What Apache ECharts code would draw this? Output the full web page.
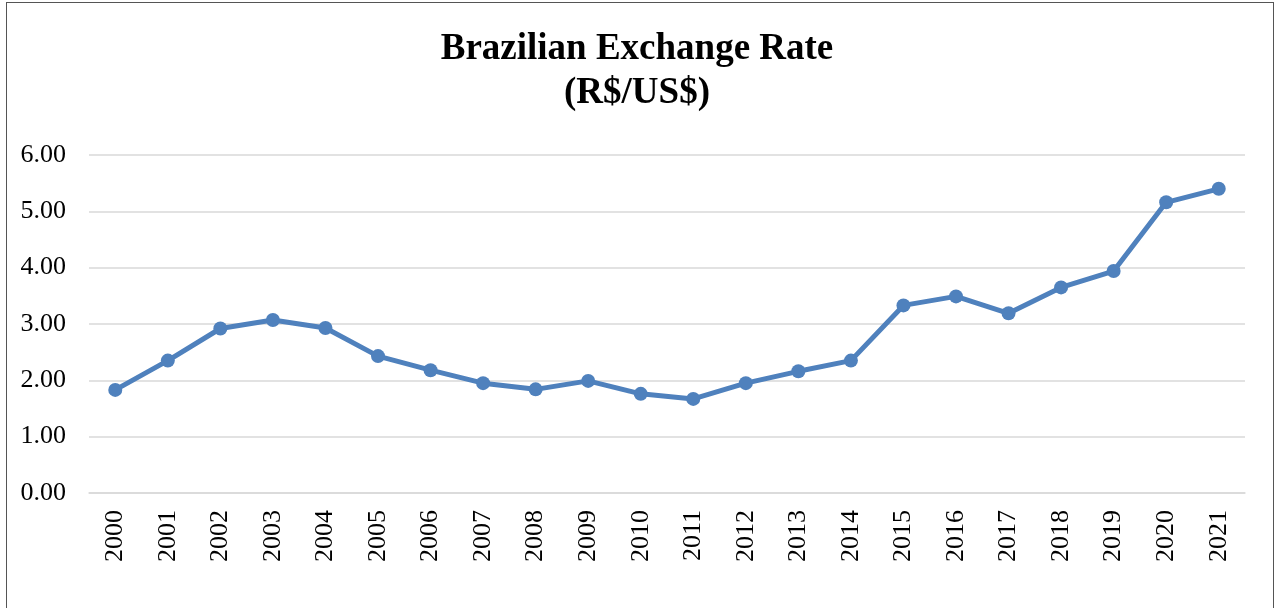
<!DOCTYPE html>
<html>
<head>
<meta charset="utf-8">
<script src="https://cdn.jsdelivr.net/npm/echarts@6/dist/echarts.min.js"></script>
<style>
  html, body { margin: 0; padding: 0; background: #fff; overflow: hidden; }
  .frame {
    position: absolute; left: 6px; top: 2px; width: 1268px; height: 620px;
    border: 1.5px solid #555; box-sizing: border-box;
  }
  #chart { position: absolute; left: 0; top: 0; width: 1274px; height: 608px; }
</style>
</head>
<body>
<div class="frame"></div>
<div id="chart"></div>
<script>
// 年份
var years = ['2000', '2001', '2002', '2003', '2004', '2005', '2006', '2007', '2008', '2009', '2010',
  '2011', '2012', '2013', '2014', '2015', '2016', '2017', '2018', '2019', '2020', '2021'];
// 汇率 R$/US$
var rates = [1.83, 2.35, 2.92, 3.07, 2.93, 2.43, 2.18, 1.95, 1.84, 1.99, 1.76,
  1.67, 1.95, 2.16, 2.35, 3.33, 3.49, 3.19, 3.65, 3.94, 5.16, 5.40];

var chart = echarts.init(document.getElementById('chart'));
var option = {
  backgroundColor: 'transparent',
  title: {
    text: 'Brazilian Exchange Rate\n(R$/US$)',
    left: 'center',
    top: 22,
    textStyle: {
      fontFamily: 'Liberation Serif',
      fontWeight: 'bold',
      fontSize: 37,
      lineHeight: 44,
      color: '#000'
    }
  },
  grid: { left: 89, right: 29, top: 155, bottom: 115 },
  xAxis: {
    type: 'category',
    data: years,
    boundaryGap: true,
    axisLine: { show: true, lineStyle: { color: '#d9d9d9', width: 1.5 } },
    axisTick: { show: false },
    axisLabel: {
      rotate: 90,
      interval: 0,
      margin: 17,
      fontFamily: 'Liberation Serif',
      fontSize: 26,
      color: '#000'
    }
  },
  yAxis: {
    type: 'value',
    min: 0,
    max: 6,
    interval: 1,
    axisLine: { show: false },
    axisTick: { show: false },
    axisLabel: {
      margin: 23,
      fontFamily: 'Liberation Serif',
      fontSize: 26,
      color: '#000',
      formatter: function (v) { return v.toFixed(2); }
    },
    splitLine: { lineStyle: { color: '#d9d9d9', width: 1.5 } }
  },
  series: [{
    type: 'line',
    data: rates,
    symbol: 'circle',
    symbolSize: 14,
    lineStyle: { color: '#4f81bd', width: 5 },
    itemStyle: { color: '#4f81bd' },
    animation: false
  }]
};
chart.setOption(option);
</script>
</body>
</html>
